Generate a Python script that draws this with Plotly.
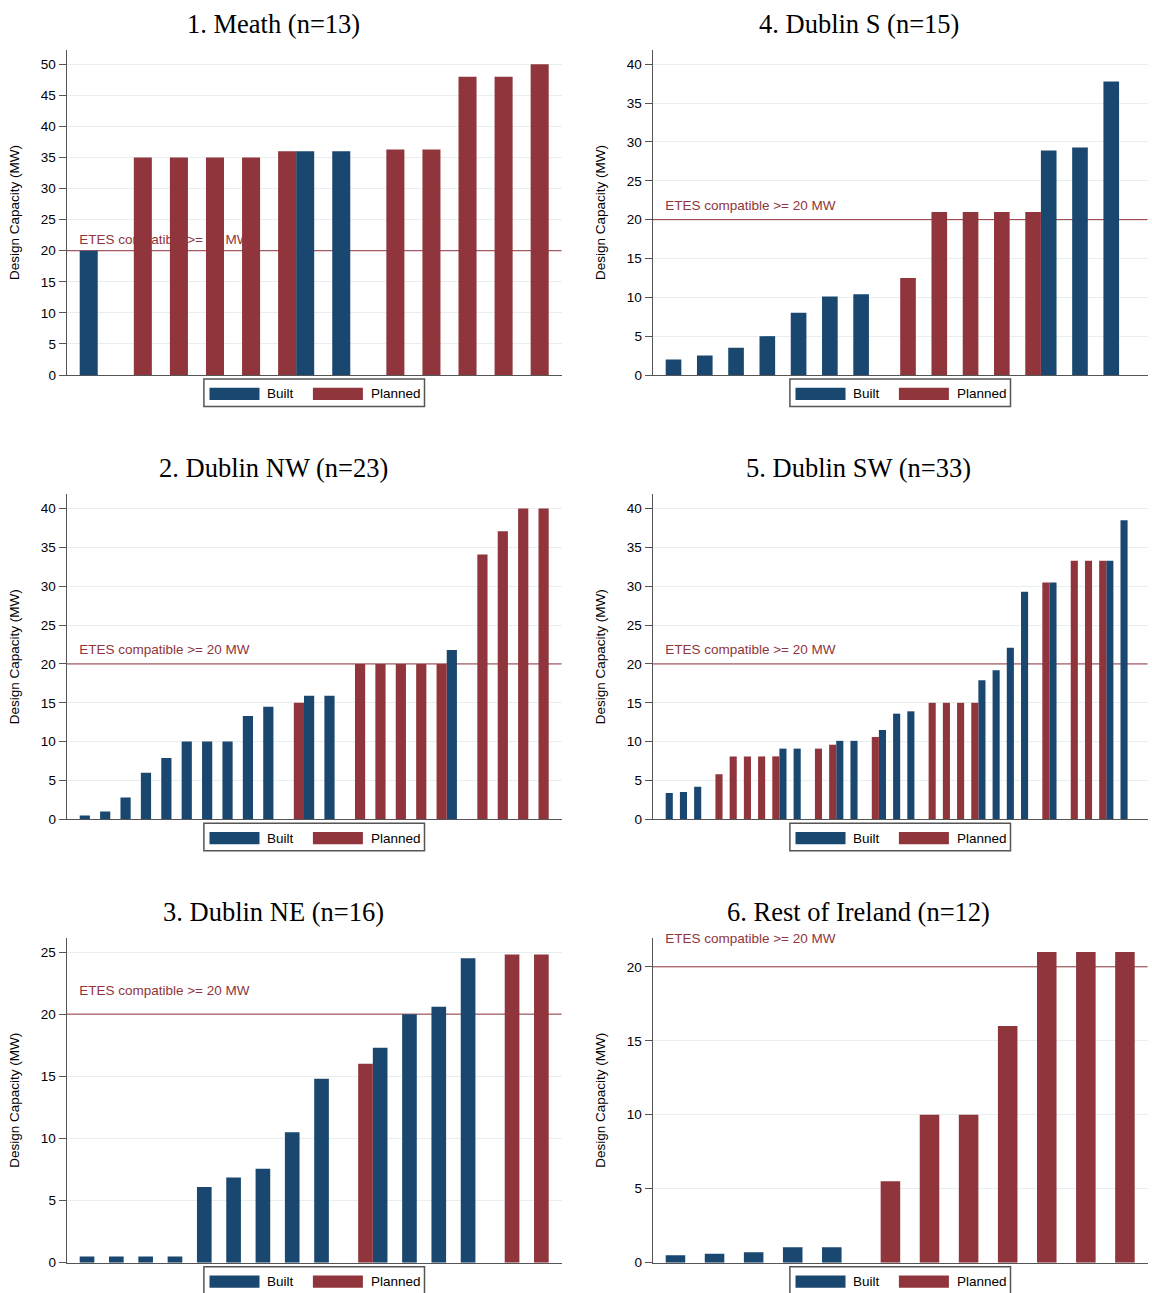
import plotly.graph_objects as go

# ---------------- data ----------------
titles = ["1. Meath (n=13)", "2. Dublin NW (n=23)", "3. Dublin NE (n=16)",
          "4. Dublin S (n=15)", "5. Dublin SW (n=33)", "6. Rest of Ireland (n=12)"]

meath_built = [20, None, None, None, None, None, 36, 36, None, None, None, None, None]
meath_planned = [None, 35, 35, 35, 35, 36, None, None, 36.3, 36.3, 48, 48, 50]

dublin_nw_built = [0.5, 1.0, 2.8, 6.0, 7.9, 10, 10, 10, 13.3, 14.5, None, 15.9, 15.9,
                   None, None, None, None, None, 21.8, None, None, None, None]
dublin_nw_planned = [None, None, None, None, None, None, None, None, None, None, 15, None, None,
                     20, 20, 20, 20, 20, None, 34.1, 37.1, 40, 40]

dublin_ne_built = [0.5, 0.5, 0.5, 0.5, 6.1, 6.85, 7.55, 10.5, 14.8, None, 17.3, 20, 20.6, 24.5, None, None]
dublin_ne_planned = [None, None, None, None, None, None, None, None, None, 16, None, None, None, None, 24.8, 24.8]

dublin_s_built = [2, 2.5, 3.5, 5, 8, 10.1, 10.4, None, None, None, None, None, 28.9, 29.3, 37.8]
dublin_s_planned = [None, None, None, None, None, None, None, 12.5, 21, 21, 21, 21, None, None, None]

dublin_sw_built = [3.4, 3.5, 4.2, None, None, None, None, None, 9.1, 9.1, None, None, 10.1, 10.1,
                   None, 11.5, 13.6, 13.9, None, None, None, None, 17.9, 19.2, 22.1, 29.3,
                   None, 30.5, None, None, None, 33.3, 38.5]
dublin_sw_planned = [None, None, None, 5.8, 8.1, 8.1, 8.1, 8.1, None, None, 9.1, 9.6, None, None,
                     10.6, None, None, None, 15, 15, 15, 15, None, None, None, None,
                     30.5, None, 33.3, 33.3, 33.3, None, None]

rest_built = [0.5, 0.6, 0.7, 1.05, 1.05, None, None, None, None, None, None, None]
rest_planned = [None, None, None, None, None, 5.5, 10, 10, 16, 21, 21, 21]

y_max_ticks = [50, 40, 25, 40, 40, 21]     # top value the axis must hold
threshold = 20
threshold_label = "ETES compatible >= 20 MW"
threshold_label_y = 22
legend_labels = ["Built", "Planned"]

# ---------------- styling / layout ----------------
W, H = 1152, 1293
BLUE = "#1a476f"
RED = "#90353b"
AXIS_C = "#555555"
GRID_C = "#e6eeee"
SANS = "Liberation Sans, Arial, sans-serif"
SERIF = "Liberation Serif, Times New Roman, serif"
FS = 13.5

COL_LEFT = [66.7, 652.7]
PLOT_W = 495.0
ROW_TOP = [50.0, 494.3, 937.7]
PLOT_H = 325.0
OUTER_GAP = 13.0
TOP_PAD = 14.3
LABEL_INSET = 12.5

panels = [
    (titles[0], meath_built, meath_planned, y_max_ticks[0], 0, 0),
    (titles[1], dublin_nw_built, dublin_nw_planned, y_max_ticks[1], 1, 0),
    (titles[2], dublin_ne_built, dublin_ne_planned, y_max_ticks[2], 2, 0),
    (titles[3], dublin_s_built, dublin_s_planned, y_max_ticks[3], 0, 1),
    (titles[4], dublin_sw_built, dublin_sw_planned, y_max_ticks[4], 1, 1),
    (titles[5], rest_built, rest_planned, y_max_ticks[5], 2, 1),
]


def px(x):
    return x / W


def py(y):
    return 1 - y / H


fig = go.Figure()
layout = dict(
    width=W, height=H, margin=dict(l=0, r=0, t=0, b=0),
    paper_bgcolor="white", plot_bgcolor="rgba(0,0,0,0)",
    barmode="overlay", showlegend=False,
)
shapes = []
annotations = []

for k, (title, built, planned, ymax, row, col) in enumerate(panels, start=1):
    sfx = "" if k == 1 else str(k)
    n = len(built)
    cats = list(range(1, n + 1))
    x0 = COL_LEFT[col]
    x1 = x0 + PLOT_W
    yt = ROW_TOP[row]
    yb = yt + PLOT_H
    s = (PLOT_W - 2 * OUTER_GAP) / n
    g = OUTER_GAP / s
    xr = [0.5 - g, n + 0.5 + g]
    ytop = ymax * PLOT_H / (PLOT_H - TOP_PAD)
    ppu = PLOT_H / ytop

    fig.add_trace(go.Bar(x=cats, y=built, width=0.5, offset=-0.5, name=legend_labels[0],
                         marker=dict(color=BLUE, line=dict(width=0)),
                         xaxis="x" + sfx, yaxis="y" + sfx))
    fig.add_trace(go.Bar(x=cats, y=planned, width=0.5, offset=0.0, name=legend_labels[1],
                         marker=dict(color=RED, line=dict(width=0)),
                         xaxis="x" + sfx, yaxis="y" + sfx))

    layout["xaxis" + sfx] = dict(
        domain=[px(x0), px(x1)], anchor="y" + sfx, range=xr,
        showline=True, linecolor=AXIS_C, linewidth=1.2, showgrid=False, zeroline=False,
        showticklabels=False, ticks="", fixedrange=True,
    )
    layout["yaxis" + sfx] = dict(
        domain=[py(yb), py(yt)], anchor="x" + sfx, range=[0, ytop],
        tick0=0, dtick=5, ticks="outside", ticklen=7, tickwidth=1.2, tickcolor=AXIS_C,
        showline=True, linecolor=AXIS_C, linewidth=1.2,
        showgrid=True, gridcolor=GRID_C, gridwidth=1, zeroline=False,
        tickfont=dict(family=SANS, size=FS, color="black"),
        title=dict(text="Design Capacity (MW)", font=dict(family=SANS, size=FS, color="black"),
                   standoff=18),
        automargin=False, fixedrange=True,
    )

    # threshold line (behind bars)
    shapes.append(dict(type="line", layer="between", xref="x" + sfx, yref="y" + sfx,
                       x0=xr[0], x1=xr[1], y0=threshold, y1=threshold,
                       line=dict(color=RED, width=1)))
    # threshold label (behind bars, not clipped)
    lyp = py(yb - threshold_label_y * ppu)
    lxp = px(x0 + LABEL_INSET)
    shapes.append(dict(type="line", layer="below", xref="paper", yref="paper",
                       x0=lxp, x1=lxp + 0.2, y0=lyp, y1=lyp,
                       line=dict(color="rgba(0,0,0,0)", width=0),
                       label=dict(text=threshold_label, textposition="start", xanchor="left",
                                  yanchor="middle", padding=0,
                                  font=dict(family=SANS, size=FS, color=RED))))

    # title
    annotations.append(dict(text=title, xref="paper", yref="paper",
                            x=px(273.5 if col == 0 else 858.5), y=py(yt - 26),
                            xanchor="center", yanchor="middle", showarrow=False,
                            font=dict(family=SERIF, size=26.5, color="black")))

    # legend box
    cx = x0 + PLOT_W / 2
    shapes.append(dict(type="rect", layer="above", xref="paper", yref="paper",
                       x0=px(cx - 110.3), x1=px(cx + 110.3), y0=py(yb + 31.5), y1=py(yb + 4),
                       line=dict(color=AXIS_C, width=1.5), fillcolor="white"))
    for (sx0, sx1, tx, lab, colr) in [(cx - 104.7, cx - 54.7, cx - 49.5, legend_labels[0], BLUE),
                                      (cx - 1.3, cx + 48.7, cx + 54.5, legend_labels[1], RED)]:
        shapes.append(dict(type="rect", layer="above", xref="paper", yref="paper",
                           x0=px(sx0), x1=px(sx1), y0=py(yb + 25), y1=py(yb + 12.7),
                           line=dict(width=0), fillcolor=colr))
        annotations.append(dict(text=lab, xref="paper", yref="paper", x=px(tx), y=py(yb + 19),
                                xanchor="left", yanchor="middle", showarrow=False,
                                font=dict(family=SANS, size=FS, color="black")))

layout["shapes"] = shapes
layout["annotations"] = annotations
fig.update_layout(**layout)
fig.write_html("out.html", config={"displayModeBar": False},
               post_script="document.body.style.margin='0px';document.body.style.overflow='hidden';")
